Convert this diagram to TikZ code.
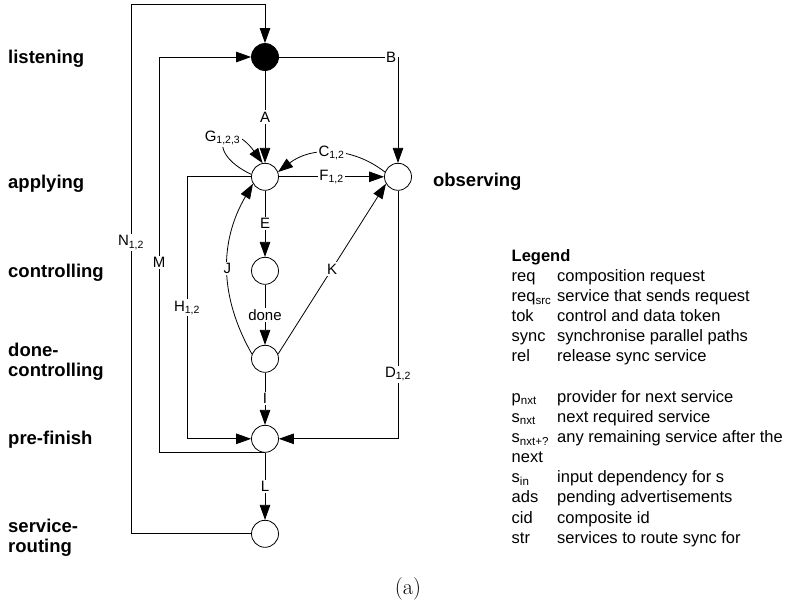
\documentclass[tikz,border=0pt]{standalone}
\usepackage{fontspec}
\usepackage{xcolor}
\usepackage{tikz}
\usetikzlibrary{arrows.meta,positioning}
\newfontfamily\arialfont{Liberation Sans}
\newcommand{\legkey}[1]{\makebox[45.5pt][l]{#1}}
\newcommand{\lsub}[1]{\textsubscript{#1}}

\begin{document}
\begin{tikzpicture}[x=1pt,y=1pt,font=\arialfont,
  st/.style={draw,circle,line width=0.8pt,minimum size=27pt,inner sep=0pt,fill=white},
  arr/.style={-{Triangle[length=15pt,width=10.5pt]},line width=0.8pt},
  lbl/.style={fill=white,inner sep=1.5pt,font=\arialfont\fontsize{15}{17}\selectfont},
  lane/.style={anchor=west,align=left,inner sep=0pt,font=\arialfont\bfseries\fontsize{18.5}{20}\selectfont}]
\useasboundingbox (0,0) rectangle (792,-606);
\node[st,fill=black] (listen) at (265,-57) {};
\node[st,below=92pt of listen] (apply) {};
\node[st,right=105.2pt of apply] (observ) {};
\node[st,below=66.2pt of apply] (ctrl) {};
\node[st,below=60.2pt of ctrl] (done) {};
\node[st,below=52.2pt of done] (prefin) {};
\node[st,below=67.2pt of prefin] (servr) {};
\coordinate (ncol) at (131,-4);
\coordinate (mcol) at (159,0);
\coordinate (hcol) at (187,0);
\node[lane] (tlisten) at (8,-59) {listening};
\node[lane] (tapply) at (8,-184) {applying};
\node[lane] (tctrl) at (8,-272.5) {controlling};
\node[lane] (tdone) at (8,-362) {done-\\controlling};
\node[lane] (tpre) at (8,-440) {pre-finish};
\node[lane] (tserv) at (8,-537.5) {service-\\routing};
\node[lane,right=21pt of observ,yshift=-5pt] (tobserv) {observing};
\draw[arr] (servr) -| node[lbl,pos=0.775]{N\lsub{1,2}} (ncol) -| (listen);
\draw[arr] (prefin.south) -| node[lbl,pos=0.74]{M} (mcol |- listen) -- (listen);
\draw[arr] (apply.west) -| node[lbl,pos=0.75]{H\lsub{1,2}} (hcol |- prefin) -- (prefin);
\draw[arr] (listen) -| node[lbl,pos=0.5,xshift=-7pt]{B} (observ);
\draw[arr] (observ) |- node[lbl,pos=0.37]{D\lsub{1,2}} (prefin);
\draw[arr] (listen) -- node[lbl]{A} (apply);
\draw[arr] (apply.170) .. controls (200,-150) and (228,-115) .. node[lbl,pos=0.55,xshift=-4pt,yshift=2pt]{G\lsub{1,2,3}} (apply.100);
\draw[arr] (observ.160) to[bend right=38] node[lbl]{C\lsub{1,2}} (apply.20);
\draw[arr] (apply) -- node[lbl]{F\lsub{1,2}} (observ);
\draw[arr] (apply) -- node[lbl]{E} (ctrl);
\draw[arr] (ctrl) -- node[lbl]{done} (done);
\draw[arr] (done.160) to[bend left=30] node[lbl]{J} (apply.210);
\draw[arr] (done.20) -- node[lbl]{K} (observ.210);
\draw[arr] (done) -- node[lbl]{I} (prefin);
\draw[arr] (prefin) -- node[lbl]{L} (servr);
\node[anchor=north west,align=left,inner sep=0pt,font=\arialfont\fontsize{16.5}{20.15}\selectfont] (legend) at (511.5,-249) {\textbf{Legend}\\
\legkey{req}composition request\\
\legkey{req\lsub{src}}service that sends request\\
\legkey{tok}control and data token\\
\legkey{sync}synchronise parallel paths\\
\legkey{rel}release sync service\\[20.15pt]
\legkey{p\lsub{nxt}}provider for next service\\
\legkey{s\lsub{nxt}}next required service\\
\legkey{s\lsub{nxt+?}}any remaining service after the\\
next\\
\legkey{s\lsub{in}}input dependency for s\\
\legkey{ads}pending advertisements\\
\legkey{cid}composite id\\
\legkey{str}services to route sync for};
\node[font=\rmfamily\fontsize{22.5}{27}\selectfont] (cap) at (408,-588.5) {(a)};
\end{tikzpicture}
\end{document}
